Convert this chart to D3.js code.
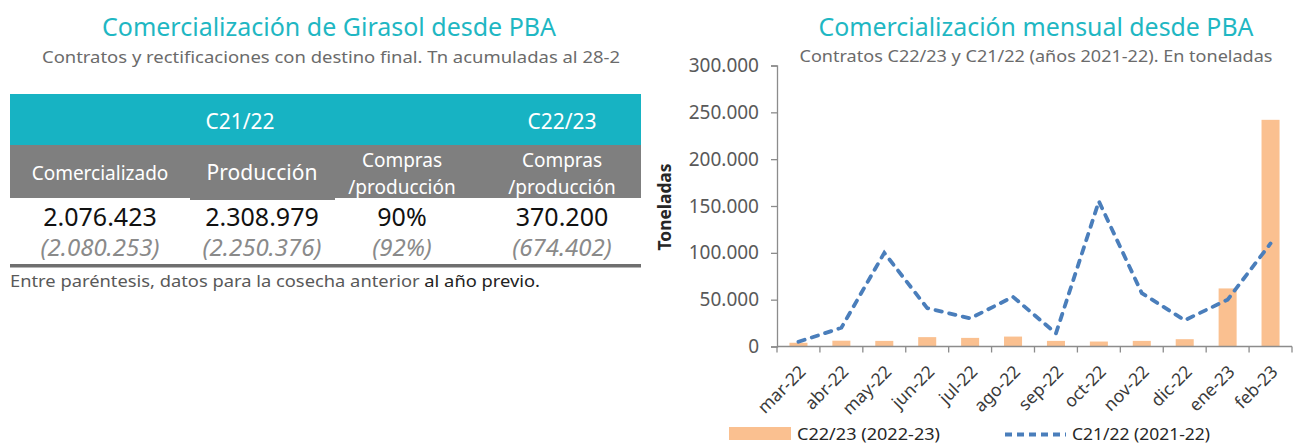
<!DOCTYPE html>
<html>
<head>
<meta charset="utf-8">
<script src="https://cdn.jsdelivr.net/npm/d3@7"></script>
<style>
  html, body { margin: 0; padding: 0; background: #fff; }
  svg { display: block; font-family: "Noto Sans", "Open Sans", sans-serif; }
</style>
</head>
<body>
<svg id="chart" width="1293" height="444"></svg>
<script>
// ---------- DATA ----------
const months = ["mar-22","abr-22","may-22","jun-22","jul-22","ago-22","sep-22","oct-22","nov-22","dic-22","ene-23","feb-23"];
const c2223 = [4000, 6200, 6000, 10000, 9200, 10600, 6000, 5300, 6000, 7800, 62000, 242000];
const c2122 = [5000, 20000, 100000, 41000, 30000, 53000, 14000, 155000, 57000, 28000, 50000, 110000];
const yTicks = [0, 50000, 100000, 150000, 200000, 250000, 300000];
const seriesNames = ["C22/23 (2022-23)", "C21/22 (2021-22)"];

const tableGroupHeaders = ["C21/22", "C22/23"];
const tableColHeaders = [["Comercializado"], ["Producción"], ["Compras", "/producción"], ["Compras", "/producción"]];
const tableCurrent = ["2.076.423", "2.308.979", "90%", "370.200"];
const tablePrevious = ["(2.080.253)", "(2.250.376)", "(92%)", "(674.402)"];

const leftTitle = "Comercialización de Girasol desde PBA";
const leftSubtitle = "Contratos y rectificaciones con destino final. Tn acumuladas al 28-2";
const footnoteA = "Entre paréntesis, datos para la cosecha anterior ";
const footnoteB = "al año previo.";
const rightTitle = "Comercialización mensual desde PBA";
const rightSubtitle = "Contratos  C22/23 y C21/22 (años 2021-22). En toneladas";
const yLabel = "Toneladas";

// ---------- STYLE ----------
const teal = "#17b3c3";
const titleColor = "#1fb7c3";
const grayBand = "#7f7f7f";
const barColor = "#fac090";
const lineColor = "#4a7ebb";
const axisColor = "#8c8c8c";
const fmt = d => d === 0 ? "0" : d3.format(",")(d).replace(/,/g, ".");

const svg = d3.select("#chart");

// ---------- LEFT PANEL (table) ----------
const L = svg.append("g");
L.append("text").attr("x", 329).attr("y", 36).attr("text-anchor", "middle")
  .attr("font-size", 25).attr("fill", titleColor)
  .attr("textLength", 454).attr("lengthAdjust", "spacingAndGlyphs").text(leftTitle);
L.append("text").attr("x", 331).attr("y", 63).attr("text-anchor", "middle")
  .attr("font-size", 17).attr("fill", "#6b6b6b")
  .attr("textLength", 578).attr("lengthAdjust", "spacingAndGlyphs").text(leftSubtitle);

const tableX0 = 10, tableX1 = 641;
const colCenters = [100, 262, 402, 562];
const groupCenters = [240, 562];

L.append("rect").attr("x", tableX0).attr("y", 94).attr("width", tableX1 - tableX0).attr("height", 51).attr("fill", teal);
L.append("rect").attr("x", tableX0).attr("y", 145).attr("width", tableX1 - tableX0).attr("height", 53).attr("fill", grayBand);
L.append("rect").attr("x", 190).attr("y", 196).attr("width", 145).attr("height", 4).attr("fill", grayBand);

L.selectAll("text.grp").data(tableGroupHeaders).join("text").attr("class", "grp")
  .attr("x", (d, i) => groupCenters[i]).attr("y", 129).attr("text-anchor", "middle")
  .attr("font-size", 21).attr("fill", "#fff").text(d => d);

tableColHeaders.forEach((lines, i) => {
  const t = L.append("text").attr("text-anchor", "middle").attr("fill", "#fff");
  if (lines.length === 1) {
    t.attr("x", colCenters[i]).attr("y", 180).attr("font-size", i === 1 ? 21 : 19).text(lines[0]);
  } else {
    t.attr("font-size", 19);
    lines.forEach((ln, j) => {
      t.append("tspan").attr("x", colCenters[i]).attr("y", j === 0 ? 167 : 194).text(ln);
    });
  }
});

L.selectAll("text.cur").data(tableCurrent).join("text").attr("class", "cur")
  .attr("x", (d, i) => colCenters[i]).attr("y", 226).attr("text-anchor", "middle")
  .attr("font-size", 25).attr("fill", "#111").text(d => d);
L.selectAll("text.prev").data(tablePrevious).join("text").attr("class", "prev")
  .attr("x", (d, i) => colCenters[i]).attr("y", 256).attr("text-anchor", "middle")
  .attr("font-size", 24).attr("font-style", "italic").attr("fill", "#8a8a8a").text(d => d);

L.append("rect").attr("x", tableX0).attr("y", 264).attr("width", tableX1 - tableX0).attr("height", 3.5).attr("fill", "#6f6f6f");

const fn = L.append("text").attr("x", 10).attr("y", 287).attr("font-size", 17)
  .attr("textLength", 530).attr("lengthAdjust", "spacingAndGlyphs");
fn.append("tspan").attr("fill", "#595959").text(footnoteA);
fn.append("tspan").attr("fill", "#222").text(footnoteB);

// ---------- RIGHT PANEL (chart) ----------
const R = svg.append("g");
R.append("text").attr("x", 1036).attr("y", 36).attr("text-anchor", "middle")
  .attr("font-size", 25).attr("fill", titleColor)
  .attr("textLength", 435).attr("lengthAdjust", "spacingAndGlyphs").text(rightTitle);
R.append("text").attr("x", 1036).attr("y", 62).attr("text-anchor", "middle")
  .attr("font-size", 17).attr("fill", "#6b6b6b")
  .attr("textLength", 473).attr("lengthAdjust", "spacingAndGlyphs").text(rightSubtitle);

const plotX0 = 777, plotX1 = 1292, plotY0 = 65.5, plotY1 = 346.5;
const x = d3.scaleBand().domain(months).range([plotX0, plotX1]).padding(0);
const y = d3.scaleLinear().domain([0, 300000]).range([plotY1, plotY0]);

// y axis
const yAxis = d3.axisLeft(y).tickValues(yTicks).tickFormat(fmt).tickSize(6).tickPadding(12);
const gy = R.append("g").attr("transform", `translate(${plotX0},0)`).call(yAxis);
gy.select(".domain").attr("stroke", axisColor).attr("stroke-width", 1.3);
gy.selectAll(".tick line").attr("stroke", axisColor).attr("stroke-width", 1.3);
gy.selectAll(".tick text").attr("font-size", 19).attr("fill", "#595959")
  .attr("font-family", "'Noto Sans', sans-serif");

// bars
const barW = x.bandwidth() * 0.42;
R.append("g").selectAll("rect").data(c2223).join("rect")
  .attr("x", (d, i) => x(months[i]) + x.bandwidth() / 2 - barW / 2)
  .attr("y", d => y(d)).attr("width", barW).attr("height", d => y(0) - y(d))
  .attr("fill", barColor);

// x axis
const gx = R.append("g").attr("transform", `translate(0,${plotY1})`);
gx.append("line").attr("x1", plotX0).attr("x2", plotX1).attr("stroke", axisColor).attr("stroke-width", 1.3);
const bounds = months.map(m => x(m)).concat([plotX1]);
gx.selectAll("line.tk").data(bounds).join("line").attr("class", "tk")
  .attr("x1", d => d).attr("x2", d => d).attr("y1", 0).attr("y2", 6)
  .attr("stroke", axisColor).attr("stroke-width", 1.3);
gx.selectAll("text").data(months).join("text")
  .attr("transform", d => `translate(${x(d) + x.bandwidth() / 2 + 4},${22}) rotate(-45)`)
  .attr("text-anchor", "end").attr("dy", "0.35em")
  .attr("font-size", 17.5).attr("fill", "#3a3a3a").text(d => d);

// line
const line = d3.line().x((d, i) => x(months[i]) + x.bandwidth() / 2).y(d => y(d));
R.append("path").datum(c2122).attr("d", line).attr("fill", "none")
  .attr("stroke", lineColor).attr("stroke-width", 3.8)
  .attr("stroke-dasharray", "6.5,7.5").attr("stroke-linecap", "round");

// y label
R.append("text").attr("transform", "translate(671,207) rotate(-90)")
  .attr("text-anchor", "middle").attr("font-size", 17).attr("font-weight", "bold")
  .attr("fill", "#262626").attr("textLength", 87).attr("lengthAdjust", "spacingAndGlyphs")
  .text(yLabel);

// legend
const lg = R.append("g");
lg.append("rect").attr("x", 729).attr("y", 427).attr("width", 62).attr("height", 13).attr("fill", barColor);
lg.append("text").attr("x", 797).attr("y", 440).attr("font-size", 17).attr("fill", "#262626")
  .attr("textLength", 143).attr("lengthAdjust", "spacingAndGlyphs").text(seriesNames[0]);
lg.append("line").attr("x1", 1005).attr("x2", 1066).attr("y1", 434.5).attr("y2", 434.5)
  .attr("stroke", lineColor).attr("stroke-width", 3.8)
  .attr("stroke-dasharray", "7,5").attr("stroke-linecap", "butt");
lg.append("text").attr("x", 1072).attr("y", 440).attr("font-size", 17).attr("fill", "#262626")
  .attr("textLength", 138).attr("lengthAdjust", "spacingAndGlyphs").text(seriesNames[1]);
</script>
</body>
</html>
